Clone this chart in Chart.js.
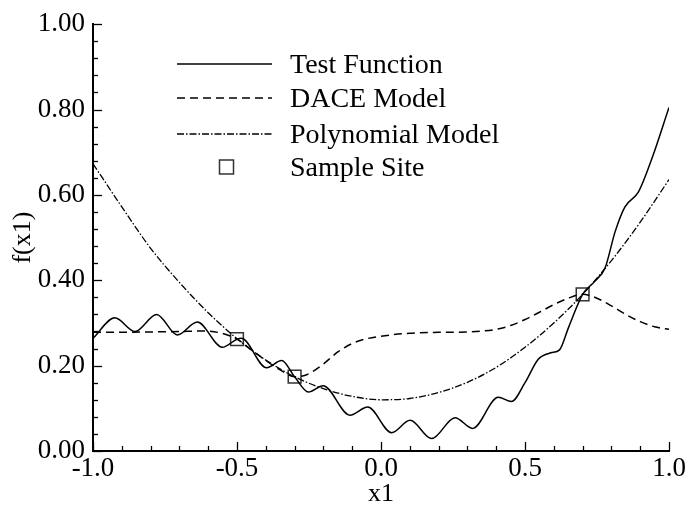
<!DOCTYPE html>
<html>
<head>
<meta charset="utf-8">
<script src="https://cdn.jsdelivr.net/npm/chart.js@4/dist/chart.umd.min.js"></script>
<style>
  html, body { margin: 0; padding: 0; background: #ffffff; }
  #wrap { width: 690px; height: 513px; }
</style>
</head>
<body>
<div id="wrap"><canvas id="c" width="690" height="513"></canvas></div>
<script>
// ---- data ----
const testX = [-1.0, -0.924, -0.854, -0.779, -0.707, -0.638, -0.551, -0.5, -0.485, -0.397, -0.345, -0.3, -0.252, -0.201, -0.108, -0.046, 0.037, 0.101, 0.176, 0.257, 0.318, 0.407, 0.453, 0.5, 0.546, 0.59, 0.62, 0.651, 0.7, 0.743, 0.778, 0.813, 0.847, 0.894, 0.94, 1.0];
const testY = [0.264, 0.312, 0.280, 0.320, 0.272, 0.302, 0.243, 0.262, 0.264, 0.195, 0.212, 0.174, 0.138, 0.153, 0.084, 0.103, 0.043, 0.072, 0.029, 0.078, 0.053, 0.126, 0.116, 0.160, 0.215, 0.230, 0.237, 0.289, 0.367, 0.398, 0.429, 0.514, 0.572, 0.607, 0.684, 0.805];

const daceX = [-1.0, -0.9, -0.8, -0.7, -0.62, -0.56, -0.5, -0.45, -0.4, -0.35, -0.3, -0.26, -0.2, -0.15, -0.1, -0.05, 0.0, 0.1, 0.2, 0.3, 0.35, 0.4, 0.45, 0.5, 0.55, 0.6, 0.65, 0.7, 0.75, 0.8, 0.85, 0.9, 0.95, 1.0];
const daceY = [0.278, 0.278, 0.279, 0.280, 0.281, 0.277, 0.262, 0.237, 0.212, 0.190, 0.174, 0.178, 0.204, 0.232, 0.252, 0.263, 0.269, 0.276, 0.278, 0.279, 0.281, 0.285, 0.294, 0.308, 0.325, 0.343, 0.358, 0.367, 0.358, 0.340, 0.320, 0.303, 0.291, 0.285];

const polyX = [-1.0, -0.9, -0.8, -0.7, -0.6, -0.5, -0.4, -0.3, -0.2, -0.1, 0.0, 0.1, 0.2, 0.3, 0.4, 0.5, 0.6, 0.7, 0.8, 0.9, 1.0];
const polyY = [0.673, 0.572, 0.475, 0.395, 0.324, 0.263, 0.213, 0.174, 0.146, 0.128, 0.120, 0.123, 0.137, 0.161, 0.196, 0.243, 0.300, 0.367, 0.446, 0.536, 0.636];

const sampleX = [-0.5, -0.3, 0.7];
const sampleY = [0.262, 0.174, 0.367];

const xMajorTicks = [-1.0, -0.5, 0.0, 0.5, 1.0];
const xMinorTicks = [-0.9, -0.8, -0.7, -0.6, -0.4, -0.3, -0.2, -0.1, 0.1, 0.2, 0.3, 0.4, 0.6, 0.7, 0.8, 0.9];
const yMajorTicks = [0.0, 0.2, 0.4, 0.6, 0.8, 1.0];
const yMinorTicks = [0.04, 0.08, 0.12, 0.16, 0.24, 0.28, 0.32, 0.36, 0.44, 0.48, 0.52, 0.56, 0.64, 0.68, 0.72, 0.76, 0.84, 0.88, 0.92, 0.96];

const seriesNames = ['Test Function', 'DACE Model', 'Polynomial Model', 'Sample Site'];
const xTitle = 'x1';
const yTitle = 'f(x1)';

// ---- build ----
const pts = (xs, ys) => xs.map((x, i) => ({ x: x, y: ys[i] }));
const FONT = '"Liberation Serif", "Times New Roman", serif';
const DASH_DACE = [8, 5];
const DASH_POLY = [7, 2, 1.5, 2];

const tickPlugin = {
  id: 'inwardTicks',
  afterDatasetsDraw(chart) {
    const ctx = chart.ctx;
    const xs = chart.scales.x, ys = chart.scales.y;
    const area = chart.chartArea;
    ctx.save();
    ctx.strokeStyle = '#000';
    ctx.lineWidth = 1.3;
    ctx.setLineDash([]);
    const drawX = (vals, len) => vals.forEach(v => {
      const px = Math.round(xs.getPixelForValue(v)) + 0.5;
      ctx.beginPath(); ctx.moveTo(px, area.bottom); ctx.lineTo(px, area.bottom - len); ctx.stroke();
    });
    const drawY = (vals, len) => vals.forEach(v => {
      const py = Math.round(ys.getPixelForValue(v)) + 0.5;
      ctx.beginPath(); ctx.moveTo(area.left, py); ctx.lineTo(area.left + len, py); ctx.stroke();
    });
    drawX(xMajorTicks, 9); drawX(xMinorTicks, 5);
    drawY(yMajorTicks, 9); drawY(yMinorTicks, 5);
    ctx.restore();
  }
};

const legendPlugin = {
  id: 'boxLegend',
  afterDraw(chart) {
    const ctx = chart.ctx;
    ctx.save();
    const lineX0 = 177, lineX1 = 272, textX = 290;
    const rowY = [64, 98, 134, 167];
    const dashes = [[], DASH_DACE, DASH_POLY];
    const widths = [1.5, 1.5, 1.3];
    for (let i = 0; i < 3; i++) {
      ctx.strokeStyle = '#000';
      ctx.lineWidth = widths[i];
      ctx.setLineDash(dashes[i]);
      ctx.beginPath(); ctx.moveTo(lineX0, rowY[i]); ctx.lineTo(lineX1, rowY[i]); ctx.stroke();
    }
    ctx.setLineDash([]);
    ctx.strokeStyle = '#333';
    ctx.lineWidth = 1.5;
    ctx.strokeRect(219.5, rowY[3] - 7, 14, 14);
    ctx.fillStyle = '#000';
    ctx.font = '28px ' + FONT;
    ctx.textBaseline = 'middle';
    ctx.textAlign = 'left';
    seriesNames.forEach((n, i) => ctx.fillText(n, textX, rowY[i] + 2));
    ctx.restore();
  }
};

new Chart(document.getElementById('c'), {
  type: 'line',
  data: {
    datasets: [
      { label: seriesNames[0], data: pts(testX, testY), borderColor: '#000', borderWidth: 1.5, pointRadius: 0, cubicInterpolationMode: 'monotone', fill: false },
      { label: seriesNames[1], data: pts(daceX, daceY), borderColor: '#000', borderWidth: 1.5, borderDash: DASH_DACE, pointRadius: 0, cubicInterpolationMode: 'monotone', fill: false },
      { label: seriesNames[2], data: pts(polyX, polyY), borderColor: '#000', borderWidth: 1.3, borderDash: DASH_POLY, pointRadius: 0, cubicInterpolationMode: 'monotone', fill: false },
      { label: seriesNames[3], data: pts(sampleX, sampleY), showLine: false, pointStyle: 'rect', pointRadius: 9, pointHoverRadius: 9, borderColor: '#333', borderWidth: 1.5, backgroundColor: 'rgba(0,0,0,0)' }
    ]
  },
  options: {
    responsive: false,
    animation: false,
    events: [],
    layout: { padding: { top: 21, right: 21, left: 0, bottom: 0 } },
    plugins: { legend: { display: false }, tooltip: { enabled: false } },
    scales: {
      x: {
        type: 'linear', min: -1, max: 1,
        afterBuildTicks: s => { s.ticks = xMajorTicks.map(v => ({ value: v })); },
        afterFit: s => { s.height = 62; },
        grid: { display: false, drawTicks: false },
        border: { display: true, color: '#000', width: 2 },
        ticks: { color: '#000', padding: 2, font: { family: FONT, size: 27 }, maxRotation: 0, callback: v => Number(v).toFixed(1) },
        title: { display: true, text: xTitle, color: '#000', font: { family: FONT, size: 26 }, padding: { top: 0, bottom: 3 } }
      },
      y: {
        type: 'linear', min: 0, max: 1,
        afterBuildTicks: s => { s.ticks = yMajorTicks.map(v => ({ value: v })); },
        afterFit: s => { s.width = 93; },
        grid: { display: false, drawTicks: false },
        border: { display: true, color: '#000', width: 2 },
        ticks: { color: '#000', padding: 8, font: { family: FONT, size: 27 }, callback: v => Number(v).toFixed(2) },
        title: { display: true, text: yTitle, color: '#000', font: { family: FONT, size: 26 }, padding: { top: 8, bottom: 0 } }
      }
    }
  },
  plugins: [tickPlugin, legendPlugin]
});
</script>
</body>
</html>
